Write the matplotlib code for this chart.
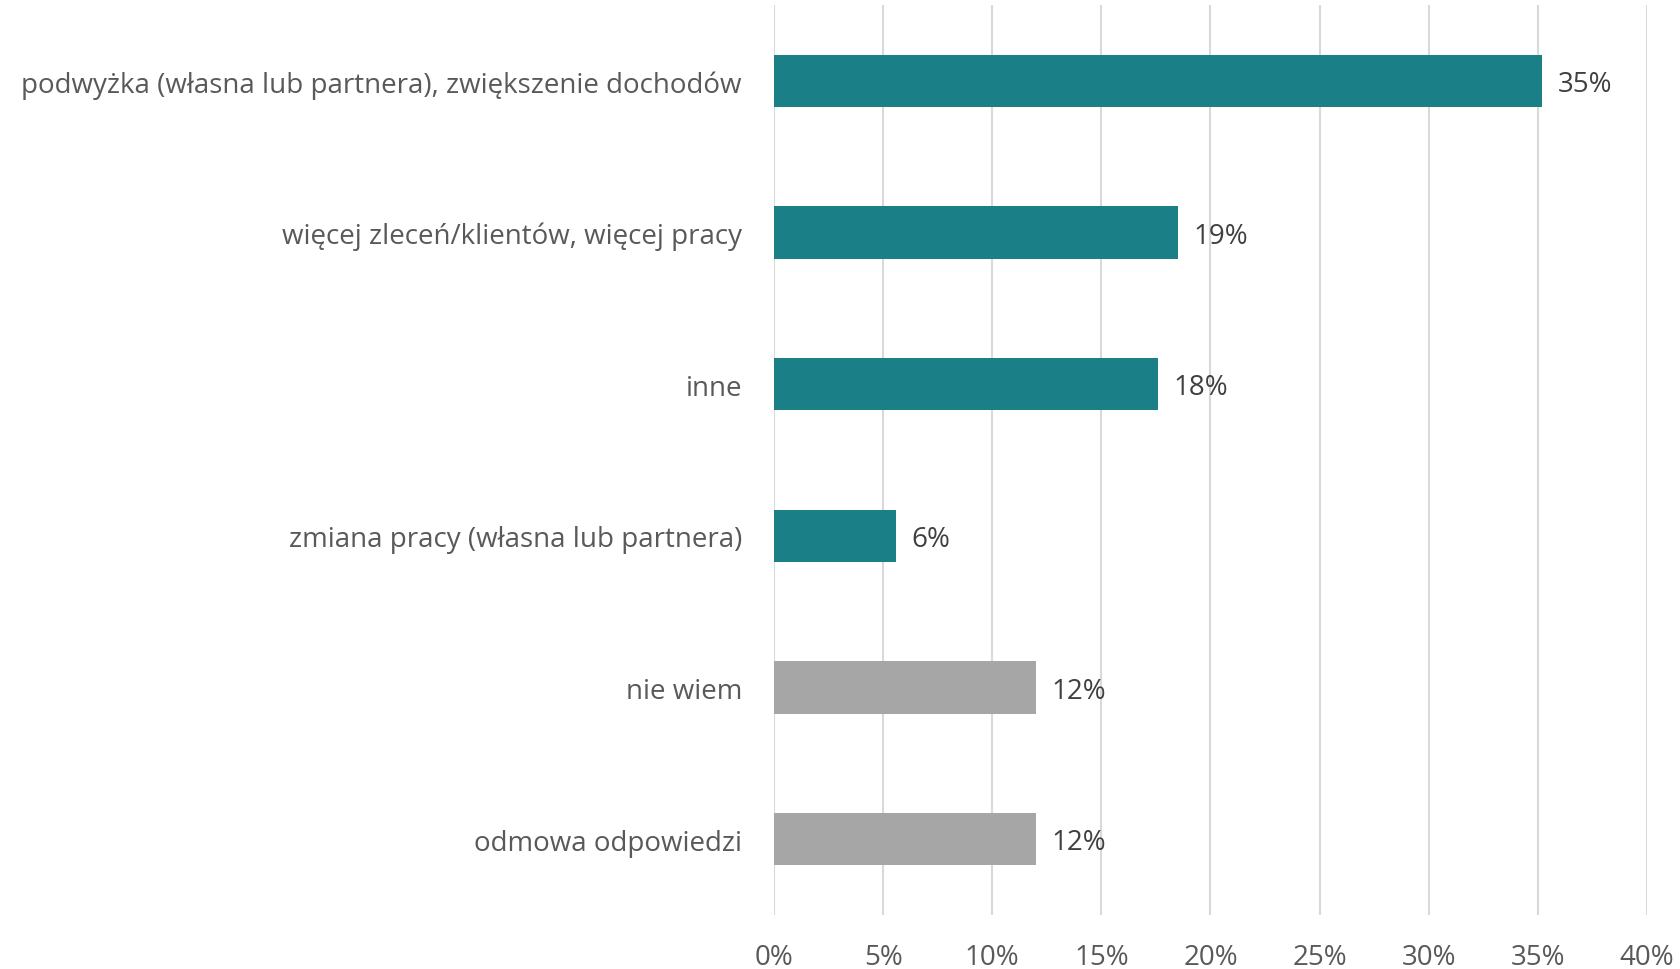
import matplotlib.pyplot as plt
import numpy as np

categories = ['podwyżka (własna lub partnera), zwiększenie dochodów',
              'więcej zleceń/klientów, więcej pracy',
              'inne',
              'zmiana pracy (własna lub partnera)',
              'nie wiem',
              'odmowa odpowiedzi']
values = [35.2, 18.5, 17.6, 5.6, 12.0, 12.0]
value_labels = ['35%', '19%', '18%', '6%', '12%', '12%']
bar_colors = ['#1A7F87', '#1A7F87', '#1A7F87', '#1A7F87', '#A6A6A6', '#A6A6A6']
x_ticks = [0, 5, 10, 15, 20, 25, 30, 35, 40]

plt.rcParams['font.family'] = ['Open Sans', 'DejaVu Sans']

fig = plt.figure(figsize=(16.81, 9.70), dpi=100)
ax = fig.add_axes([0.4604, 0.0557, 0.5194, 0.9381])

y_pos = np.arange(len(categories))
ax.barh(y_pos, values, height=0.346, color=bar_colors, zorder=3)

for y, v, lab in zip(y_pos, values, value_labels):
    ax.text(v + 0.7, y + 0.02, lab, va='center', ha='left', fontsize=20, color='#404040')

ax.set_xlim(0, 40)
ax.set_ylim(len(categories) - 0.5, -0.5)
ax.set_xticks(x_ticks)
ax.set_xticklabels([f'{t}%' for t in x_ticks])
ax.set_yticks(y_pos)
ax.set_yticklabels(categories)
ax.tick_params(axis='both', length=0, labelsize=20, colors='#595959')
ax.tick_params(axis='y', pad=23)
ax.tick_params(axis='x', pad=20)
ax.grid(axis='x', color='#D9D9D9', linewidth=1.5, zorder=0)
for s in ax.spines.values():
    s.set_visible(False)

plt.savefig('out.png', dpi=100)
